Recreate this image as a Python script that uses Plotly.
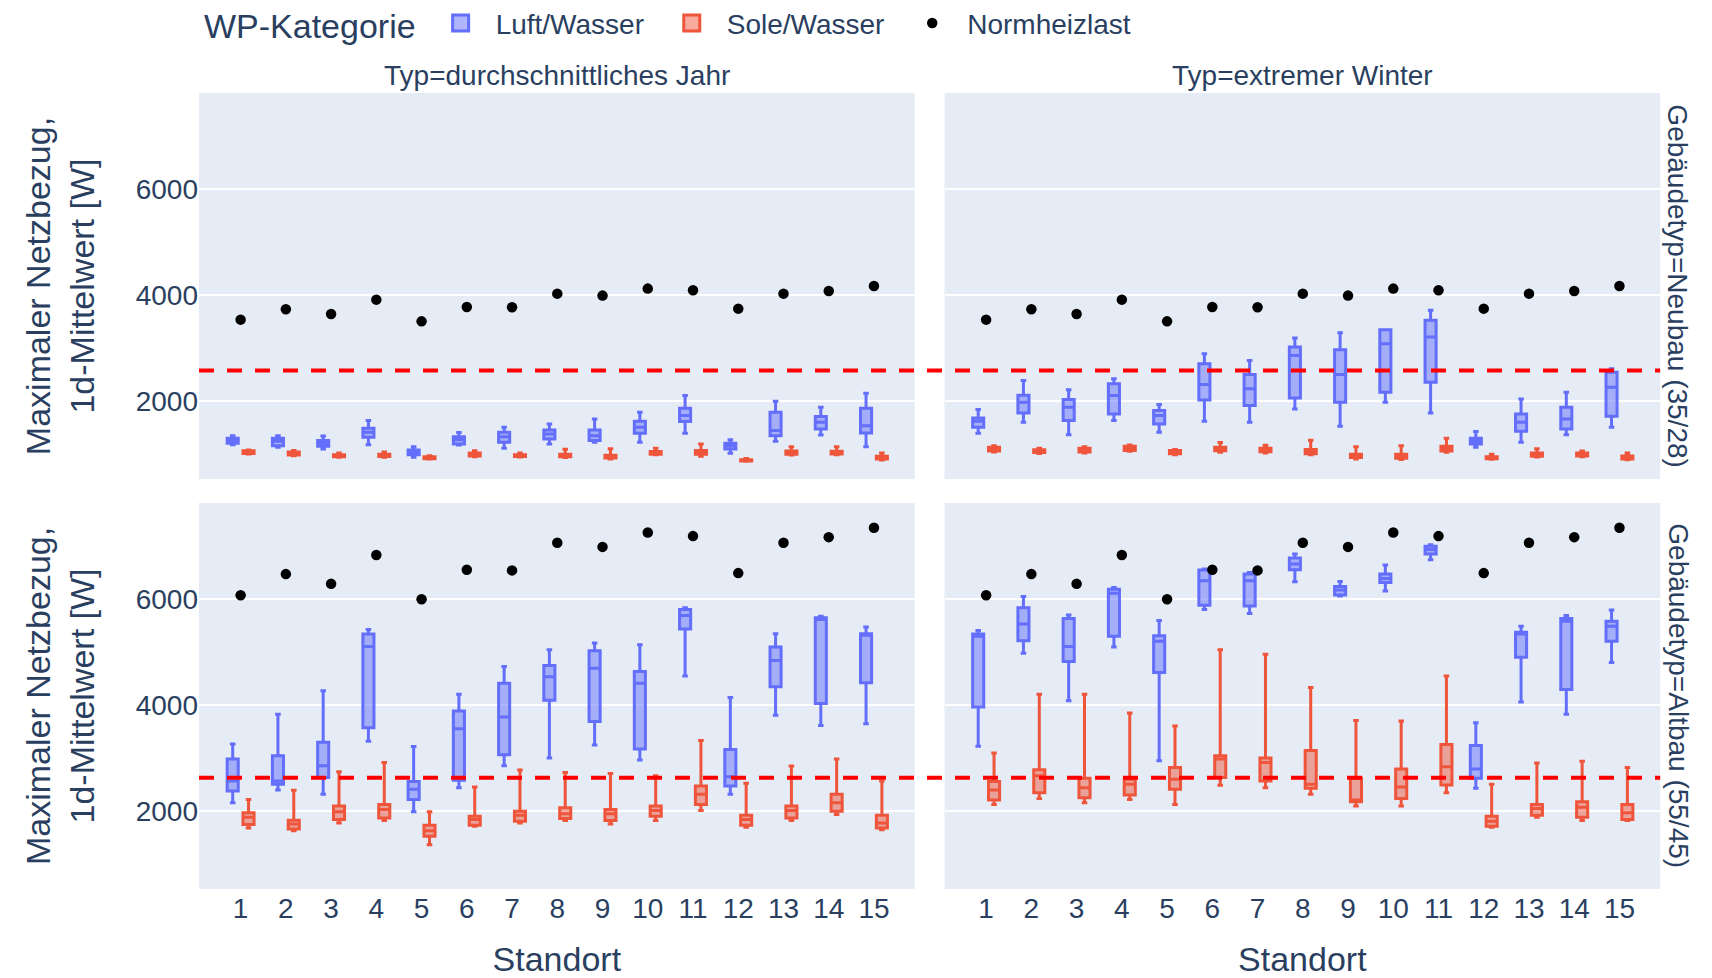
import plotly.graph_objects as go
from plotly.subplots import make_subplots

# ---------------- data ----------------
standorte = list(range(1, 16))
x_ticks = [str(s) for s in standorte]

typen = ["durchschnittliches Jahr", "extremer Winter"]
gebaeude = ["Neubau (35/28)", "Altbau (55/45)"]
kategorien = ["Luft/Wasser", "Sole/Wasser"]

normheizlast_neubau = [3540, 3735, 3647, 3918, 3508, 3779, 3773, 4031, 3994, 4126, 4095, 3748, 4031, 4082, 4177]
normheizlast_altbau = [6076, 6476, 6292, 6838, 6000, 6559, 6546, 7067, 6990, 7263, 7194, 6495, 7067, 7174, 7352]

# each entry: [lower whisker, q1, median, q3, upper whisker]
neubau_jahr_luft = [
    [1180, 1205, 1255, 1300, 1350], [1130, 1161, 1243, 1300, 1350], [1098, 1148, 1205, 1256, 1344],
    [1180, 1319, 1413, 1489, 1634], [940, 990, 1035, 1079, 1142], [1174, 1192, 1274, 1331, 1407],
    [1110, 1224, 1331, 1413, 1508], [1192, 1287, 1382, 1457, 1571], [1224, 1256, 1350, 1457, 1666],
    [1224, 1394, 1508, 1621, 1792], [1394, 1615, 1729, 1868, 2107], [1016, 1098, 1161, 1205, 1274],
    [1243, 1350, 1445, 1792, 2000], [1363, 1476, 1603, 1710, 1886], [1142, 1401, 1539, 1868, 2151]]
neubau_jahr_sole = [
    [1003, 1015, 1045, 1065, 1079], [972, 985, 1010, 1040, 1070], [940, 950, 965, 990, 1020],
    [940, 955, 975, 1000, 1040], [910, 915, 930, 950, 970], [950, 965, 985, 1020, 1065],
    [945, 955, 970, 990, 1020], [935, 950, 970, 1000, 1095], [910, 930, 955, 980, 1100],
    [990, 1000, 1020, 1050, 1110], [960, 1000, 1030, 1070, 1190], [865, 870, 880, 895, 920],
    [985, 1000, 1030, 1060, 1140], [990, 1005, 1030, 1055, 1140], [890, 910, 930, 960, 1020]]
neubau_winter_luft = [
    [1394, 1508, 1621, 1685, 1842], [1603, 1779, 1981, 2114, 2391], [1369, 1634, 1886, 2032, 2215],
    [1634, 1760, 2107, 2328, 2423], [1413, 1571, 1729, 1823, 1937], [1621, 2025, 2315, 2707, 2896],
    [1603, 1918, 2233, 2505, 2770], [1855, 2063, 2864, 3022, 3192], [1527, 1981, 2505, 2972, 3293],
    [1981, 2170, 3085, 3350, 3350], [1779, 2360, 3211, 3527, 3716], [1129, 1192, 1243, 1300, 1426],
    [1224, 1432, 1603, 1760, 2044], [1369, 1476, 1666, 1886, 2170], [1508, 1716, 2265, 2549, 2612]]
neubau_winter_sole = [
    [1040, 1060, 1090, 1130, 1160], [1015, 1030, 1055, 1085, 1110], [1020, 1040, 1065, 1110, 1140],
    [1055, 1070, 1100, 1150, 1175], [990, 1010, 1030, 1070, 1090], [1035, 1065, 1100, 1130, 1220],
    [1020, 1045, 1075, 1110, 1170], [990, 1010, 1040, 1090, 1265], [910, 935, 960, 1000, 1140],
    [900, 925, 955, 1000, 1160], [1035, 1060, 1100, 1150, 1300], [905, 915, 930, 950, 1000],
    [945, 960, 985, 1020, 1100], [950, 965, 985, 1020, 1060], [895, 910, 935, 965, 1020]]
altbau_jahr_luft = [
    [2159, 2381, 2571, 2984, 3270], [2400, 2508, 2571, 3048, 3829], [2317, 2635, 2857, 3302, 4273],
    [3321, 3575, 5111, 5346, 5428], [1987, 2222, 2413, 2559, 3219], [2444, 2584, 3556, 3892, 4209],
    [2857, 3067, 3778, 4413, 4730], [3003, 4095, 4540, 4749, 5048], [3251, 3695, 4698, 5029, 5175],
    [2965, 3175, 4413, 4635, 5143], [4552, 5441, 5695, 5809, 5841], [2317, 2476, 2648, 3162, 4146],
    [3810, 4349, 4844, 5098, 5352], [3619, 4032, 5619, 5651, 5682], [3651, 4425, 5320, 5352, 5479]]
altbau_jahr_sole = [
    [1683, 1746, 1886, 1968, 2222], [1632, 1664, 1759, 1829, 2394], [1778, 1841, 1987, 2095, 2743],
    [1822, 1873, 2032, 2127, 2921], [1365, 1524, 1632, 1733, 1987], [1714, 1733, 1841, 1905, 2457],
    [1778, 1810, 1924, 2000, 2775], [1822, 1860, 1949, 2063, 2730], [1759, 1822, 1949, 2032, 2711],
    [1822, 1905, 2013, 2095, 2667], [2013, 2127, 2317, 2476, 3333], [1695, 1733, 1841, 1924, 2527],
    [1822, 1873, 2013, 2095, 2851], [1937, 2000, 2159, 2317, 2984], [1651, 1683, 1778, 1924, 2571]]
altbau_winter_luft = [
    [3225, 3968, 5302, 5346, 5409], [4984, 5219, 5536, 5841, 6051], [4083, 4825, 5111, 5638, 5702],
    [5098, 5302, 6114, 6190, 6222], [2952, 4616, 5206, 5314, 5600], [5809, 5886, 6349, 6552, 6571],
    [5733, 5873, 6349, 6476, 6508], [6330, 6559, 6667, 6781, 6857], [6063, 6083, 6178, 6241, 6336],
    [6159, 6317, 6394, 6476, 6648], [6749, 6857, 6940, 7003, 7029], [2432, 2622, 2794, 3238, 3670],
    [4063, 4908, 5346, 5378, 5492], [3829, 4298, 5587, 5638, 5695], [4806, 5206, 5492, 5587, 5797]]
altbau_winter_sole = [
    [2127, 2210, 2400, 2559, 3098], [2241, 2349, 2667, 2781, 4209], [2159, 2254, 2444, 2622, 4209],
    [2222, 2305, 2508, 2603, 3854], [2127, 2413, 2603, 2825, 3606], [2489, 2635, 2984, 3048, 5048],
    [2444, 2571, 2921, 3003, 4965], [2317, 2432, 2508, 3143, 4336], [2095, 2178, 2210, 2622, 3714],
    [2095, 2241, 2457, 2794, 3702], [2349, 2495, 2838, 3257, 4552], [1695, 1714, 1810, 1905, 2508],
    [1886, 1924, 2051, 2127, 2908], [1822, 1886, 2076, 2178, 2940], [1822, 1841, 1968, 2127, 2825]]

grenzwert_neubau = 2580
grenzwert_altbau = 2630

# ---------------- figure ----------------
colors = {"Luft/Wasser": "#636efa", "Sole/Wasser": "#EF553B"}
fills = {"Luft/Wasser": "rgba(99,110,250,0.5)", "Sole/Wasser": "rgba(239,85,59,0.5)"}

fig = make_subplots(
    rows=2, cols=2, shared_xaxes=True, shared_yaxes=True,
    horizontal_spacing=0.02, vertical_spacing=0.03,
    column_titles=["Typ=" + t for t in typen],
    row_titles=["Gebäudetyp=" + g for g in gebaeude],
)

# legend entries for the box categories (larger square symbols)
for name in kategorien:
    fig.add_trace(go.Scatter(
        x=[None], y=[None], mode="markers", name=name + "\u00a0", legendgroup=name, showlegend=True,
        marker=dict(symbol="square", size=16, color=fills[name],
                    line=dict(color=colors[name], width=3)),
        hoverinfo="skip",
    ), row=1, col=1)

panels = {
    (1, 1): (neubau_jahr_luft, neubau_jahr_sole, normheizlast_neubau),
    (1, 2): (neubau_winter_luft, neubau_winter_sole, normheizlast_neubau),
    (2, 1): (altbau_jahr_luft, altbau_jahr_sole, normheizlast_altbau),
    (2, 2): (altbau_winter_luft, altbau_winter_sole, normheizlast_altbau),
}

first = True
for (r, c), (luft, sole, nhl) in panels.items():
    for name, stats in zip(kategorien, [luft, sole]):
        fig.add_trace(go.Box(
            x=standorte,
            lowerfence=[s[0] for s in stats],
            q1=[s[1] for s in stats],
            median=[s[2] for s in stats],
            q3=[s[3] for s in stats],
            upperfence=[s[4] for s in stats],
            name=name, legendgroup=name, showlegend=False,
            marker_color=colors[name], line_width=3,
            offsetgroup=name, alignmentgroup="True",
        ), row=r, col=c)
    fig.add_trace(go.Scatter(
        x=standorte, y=nhl, mode="markers", name="Normheizlast",
        legendgroup="Normheizlast", showlegend=first,
        marker=dict(color="black", size=10.5),
    ), row=r, col=c)
    first = False

for yref, val in [("y", grenzwert_neubau), ("y3", grenzwert_altbau)]:
    fig.add_shape(type="line", xref="paper", x0=0, x1=0.98, yref=yref, y0=val, y1=val,
                  line=dict(color="red", width=4, dash="15px,13px"), layer="above")

fig.update_annotations(font_size=28)

fig.add_annotation(text="WP-Kategorie", xref="paper", yref="paper", x=0.002, y=1.0845,
                   xanchor="left", yanchor="middle", showarrow=False, font=dict(size=34))

fig.update_xaxes(range=[0.08, 15.9], tickmode="array", tickvals=standorte, ticktext=x_ticks,
                 automargin=False, showgrid=False)
fig.update_xaxes(title_text="Standort", title_standoff=26, row=2)
fig.update_yaxes(range=[530, 7820], dtick=2000, tick0=0, automargin=False, gridwidth=1.6)
fig.update_yaxes(title_text="Maximaler Netzbezug,<br>1d-Mittelwert [W]", title_standoff=30, col=1)

fig.update_layout(
    width=1704, height=970,
    template="plotly",
    font=dict(family="Arial, Liberation Sans, sans-serif", size=28, color="#2a3f5f"),
    boxmode="group",
    margin=dict(l=191, r=22, t=85, b=89, autoexpand=False),
    legend=dict(orientation="h", x=0.152, xanchor="left",
                y=1.0876, yanchor="middle", itemwidth=60),
)

fig.write_html("out.html")
